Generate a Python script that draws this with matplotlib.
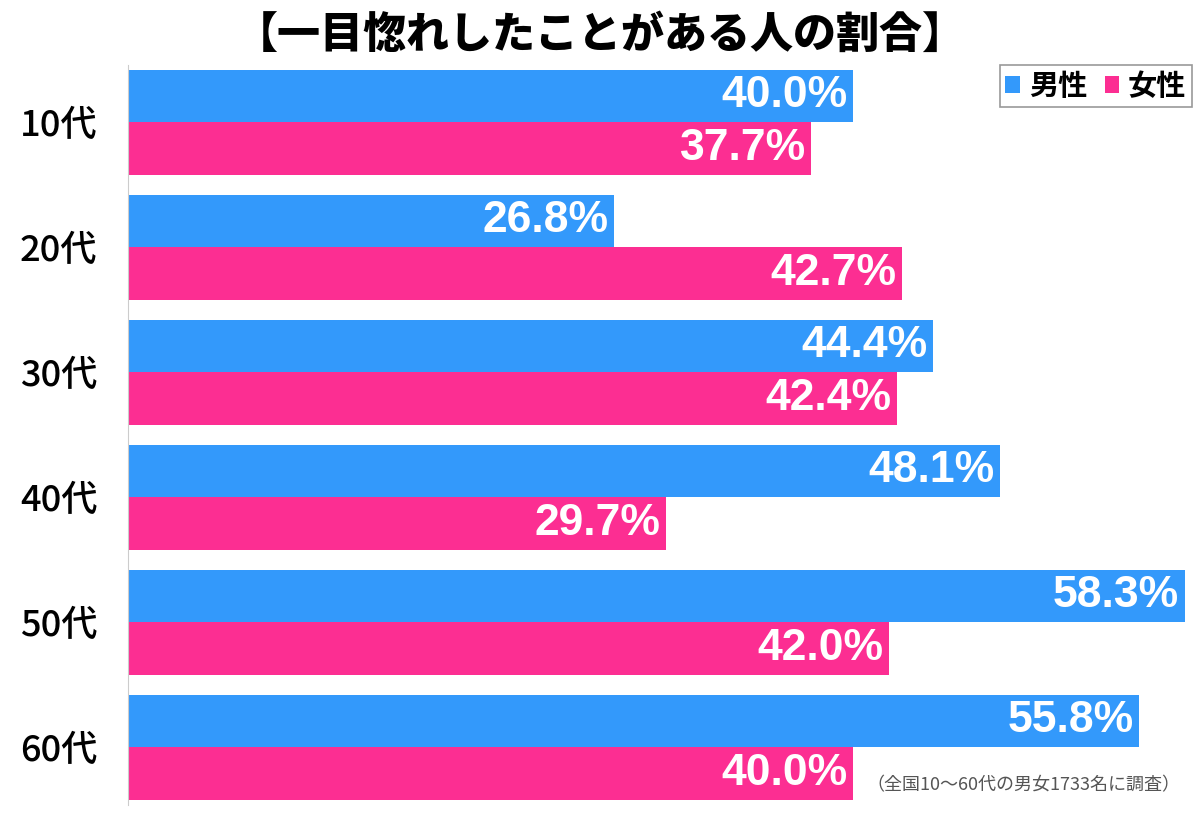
import numpy as np
import matplotlib
matplotlib.use('Agg')
import matplotlib.pyplot as plt

# data
ages = ['10代', '20代', '30代', '40代', '50代', '60代']
male = [40.0, 26.8, 44.4, 48.1, 58.3, 55.8]
female = [37.7, 42.7, 42.4, 29.7, 42.0, 40.0]
series_names = ['男性', '女性']

blue = '#3399fb'
pink = '#fc2e92'
jp = ['Noto Sans CJK JP', 'DejaVu Sans']
num_font = ['Liberation Sans', 'DejaVu Sans']

plt.rcParams['font.family'] = jp

fig = plt.figure(figsize=(12, 8.14), dpi=100)
ax = fig.add_axes([128/1200, 1 - 805/814, 1 - 128/1200, (805 - 65)/814])

y = np.arange(len(ages))
h = 0.42
b1 = ax.barh(y - h/2, male, height=h, color=blue, label=series_names[0])
b2 = ax.barh(y + h/2, female, height=h, color=pink, label=series_names[1])

for bars, vals in ((b1, male), (b2, female)):
    for rect, v in zip(bars, vals):
        ax.annotate(f'{v:.1f}%', xy=(v, rect.get_y() + rect.get_height()/2),
                    xytext=(-4, 0), textcoords='offset points',
                    ha='right', va='center', color='white', fontsize=32,
                    fontweight='bold', family=num_font)

ax.set_xlim(0, 1072/18.125)
ax.set_ylim(len(ages) - 1 + 0.464, -0.456)
ax.set_yticks(y)
ax.set_yticklabels(ages, fontsize=26, fontweight='medium')
ax.tick_params(axis='y', length=0, pad=22)
ax.set_xticks([])
for s in ['top', 'right', 'bottom']:
    ax.spines[s].set_visible(False)
ax.spines['left'].set_color('#cccccc')

leg = ax.legend(loc='upper right', bbox_to_anchor=(0.9925, 1.0), ncol=2,
                prop={'family': jp, 'weight': 'bold', 'size': 21},
                handlelength=0.5, handleheight=0.5, handletextpad=0.3,
                columnspacing=0.6, borderpad=0.2, borderaxespad=0,
                fancybox=False, edgecolor='#999999', framealpha=1)
leg.get_frame().set_linewidth(1.2)

fig.text(0.5, 1 - 35/814, '【一目惚れしたことがある人の割合】', ha='center', va='center',
         fontsize=31, fontweight='black')
fig.text(1180/1200, 1 - 785/814, '（全国10～60代の男女1733名に調査）', ha='right',
         va='center', fontsize=13, color='#555555')

plt.savefig('out.png', dpi=100)
